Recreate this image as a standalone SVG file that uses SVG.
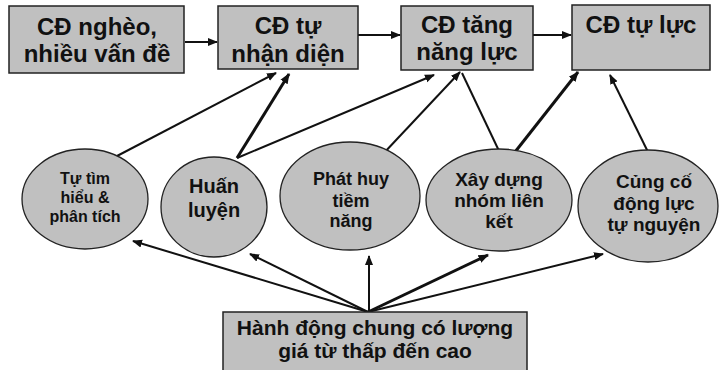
<svg xmlns="http://www.w3.org/2000/svg" width="721" height="370" viewBox="0 0 721 370">
<style>
.box{fill:#c0c0c0;stroke:#222;stroke-width:1.5}
.el{fill:#c0c0c0;stroke:#222;stroke-width:1.3}
.t{font-family:"Liberation Sans",Arial,sans-serif;font-weight:bold;fill:#111;text-anchor:middle}
.big{font-size:24px}
.c{stroke:#111;fill:none;stroke-width:2}
.k{stroke:#111;fill:none;stroke-width:3}
</style>
<defs>
<marker id="ah" viewBox="0 0 10 10" refX="9" refY="5" markerWidth="5" markerHeight="5" orient="auto" markerUnits="strokeWidth">
<path d="M0,1 L10,5 L0,9 z" fill="#111"/>
</marker>
<marker id="ahs" viewBox="0 0 10 10" refX="9" refY="5" markerWidth="3.5" markerHeight="3.5" orient="auto" markerUnits="strokeWidth">
<path d="M0,1 L10,5 L0,9 z" fill="#111"/>
</marker>
</defs>
<rect width="721" height="370" fill="#fff"/>
<g id="connectors">
<line class="c" x1="185" y1="42" x2="217" y2="42" marker-end="url(#ah)"/>
<line class="c" x1="358" y1="35" x2="400" y2="35" marker-end="url(#ah)"/>
<line class="c" x1="533" y1="35" x2="571" y2="35" marker-end="url(#ah)"/>
<line class="c" x1="117" y1="156" x2="276" y2="73" marker-end="url(#ah)"/>
<line class="k" x1="237" y1="158" x2="289" y2="74" marker-end="url(#ahs)"/>
<line class="c" x1="237" y1="158" x2="434" y2="75" marker-end="url(#ah)"/>
<line class="c" x1="383" y1="154" x2="460" y2="72" marker-end="url(#ah)"/>
<line class="c" x1="500" y1="153" x2="462" y2="73"/>
<line class="k" x1="515" y1="152" x2="578" y2="72" marker-end="url(#ahs)"/>
<line class="c" x1="648" y1="152" x2="610" y2="75" marker-end="url(#ah)"/>
<line class="c" x1="368" y1="312" x2="133" y2="241" marker-end="url(#ah)"/>
<line class="c" x1="368" y1="312" x2="250" y2="254" marker-end="url(#ah)"/>
<line class="c" x1="369" y1="312" x2="369" y2="256" marker-end="url(#ah)"/>
<line class="k" x1="368" y1="312" x2="488" y2="255" marker-end="url(#ahs)"/>
<line class="c" x1="368" y1="312" x2="603" y2="254" marker-end="url(#ah)"/>
</g>
<g id="n1">
<rect class="box" x="9" y="6" width="175" height="67"/>
<text class="t big" x="97" y="35">CĐ nghèo,</text>
<text class="t big" x="97" y="62">nhiều vấn đề</text>
</g>
<g id="n2">
<rect class="box" x="218" y="6" width="140" height="63"/>
<text class="t big" x="288" y="34">CĐ tự</text>
<text class="t big" x="288" y="62">nhận diện</text>
</g>
<g id="n3">
<rect class="box" x="401" y="6" width="132" height="64"/>
<text class="t big" x="467" y="33">CĐ tăng</text>
<text class="t big" x="467" y="60">năng lực</text>
</g>
<g id="n4">
<rect class="box" x="572" y="5" width="138" height="65"/>
<text class="t big" x="641" y="33">CĐ tự lực</text>
</g>
<g id="e1">
<ellipse class="el" cx="85" cy="199" rx="63" ry="50"/>
<text class="t" font-size="16" x="85" y="184">Tự tìm</text>
<text class="t" font-size="16" x="85" y="203">hiểu &amp;</text>
<text class="t" font-size="16" x="85" y="222">phân tích</text>
</g>
<g id="e2">
<ellipse class="el" cx="214" cy="207" rx="53" ry="50"/>
<text class="t" font-size="20" x="214" y="193">Huấn</text>
<text class="t" font-size="20" x="214" y="217">luyện</text>
</g>
<g id="e3">
<ellipse class="el" cx="350" cy="196" rx="70" ry="54"/>
<text class="t" font-size="18" x="351" y="185">Phát huy</text>
<text class="t" font-size="18" x="351" y="207">tiềm</text>
<text class="t" font-size="18" x="351" y="227">năng</text>
</g>
<g id="e4">
<ellipse class="el" cx="499" cy="200" rx="73" ry="51"/>
<text class="t" font-size="19" x="499" y="186">Xây dựng</text>
<text class="t" font-size="19" x="499" y="207">nhóm liên</text>
<text class="t" font-size="19" x="499" y="228">kết</text>
</g>
<g id="e5">
<ellipse class="el" cx="648" cy="206" rx="70" ry="56"/>
<text class="t" font-size="19" x="654" y="188">Củng cố</text>
<text class="t" font-size="19" x="654" y="210">động lực</text>
<text class="t" font-size="19" x="654" y="231">tự nguyện</text>
</g>
<g id="n5">
<rect class="box" x="223" y="312" width="304" height="60"/>
<text class="t" font-size="21" x="375" y="335">Hành động chung có lượng</text>
<text class="t" font-size="21" x="375" y="358">giá từ thấp đến cao</text>
</g>
</svg>
